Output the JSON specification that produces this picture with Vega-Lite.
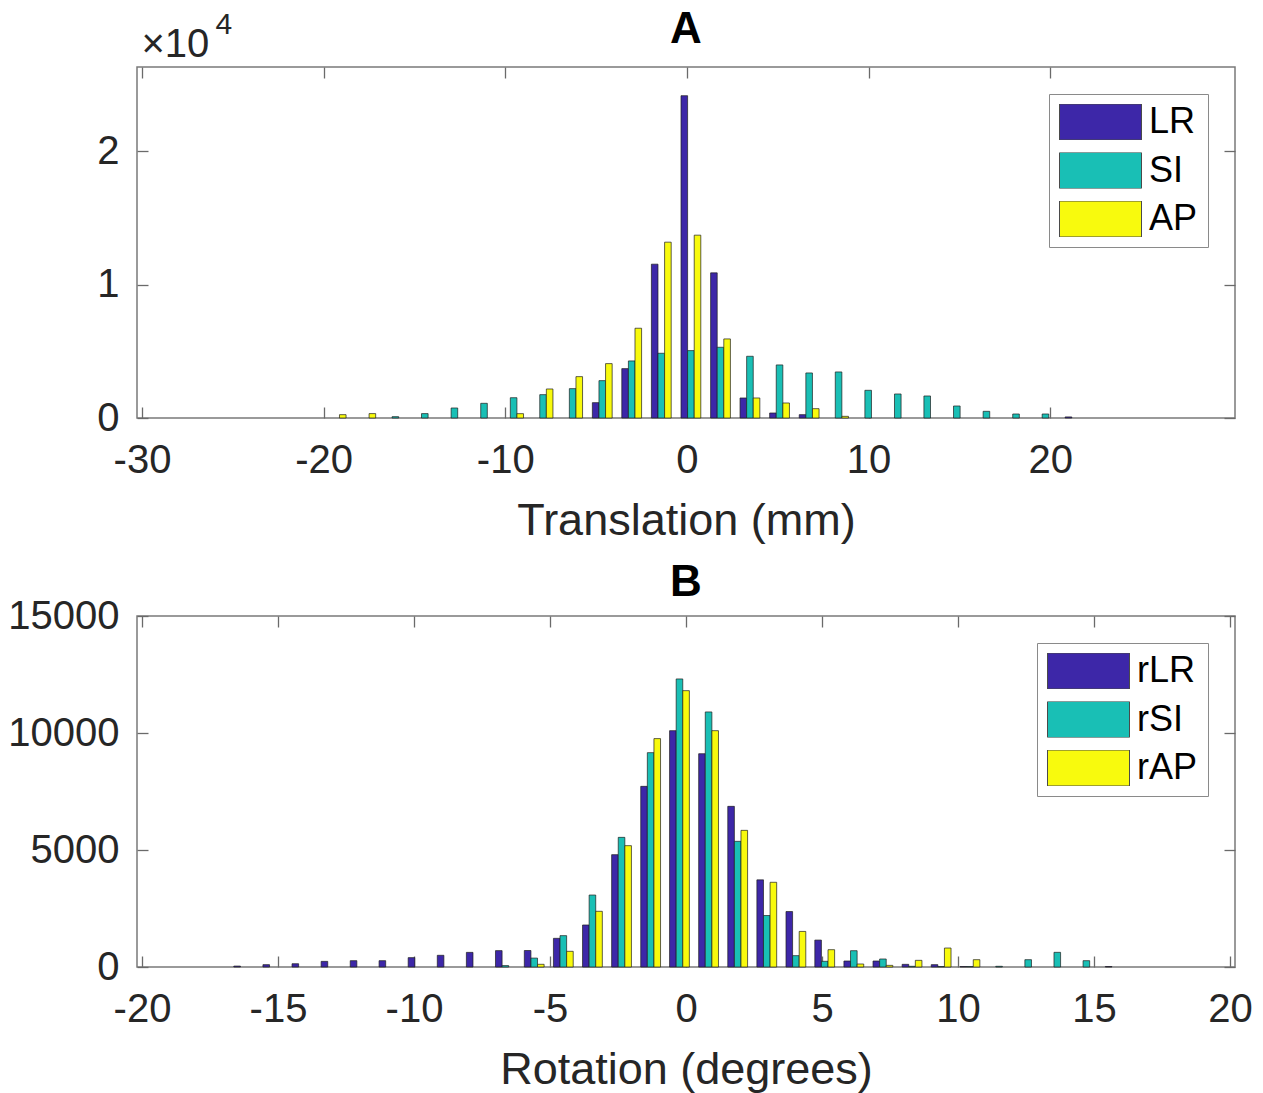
{
  "$schema": "https://vega.github.io/schema/vega-lite/v6.json",
  "autosize": {"type": "pad"},
  "padding": {"left": 7, "top": 7, "right": 0, "bottom": 0},
  "background": "white",
  "bounds": "flush",
  "spacing": 198,
  "config": {
    "font": "Liberation Sans",
    "view": {"stroke": "#7a7a7a", "strokeWidth": 1.5},
    "axis": {
      "grid": false,
      "domain": false,
      "tickColor": "#6a6a6a",
      "tickWidth": 1.3,
      "tickSize": -11,
      "labelFont": "Liberation Sans",
      "labelFontSize": 40,
      "labelColor": "#262626",
      "titleFont": "Liberation Sans",
      "titleFontSize": 45,
      "titleFontWeight": "normal",
      "titleColor": "#262626"
    },
    "title": {"font": "Liberation Sans", "fontSize": 44, "fontWeight": "bold", "color": "#000000", "anchor": "middle"},
    "legend": {
      "title": null,
      "orient": "top-right",
      "offset": 27,
      "symbolType": "M-1,-0.439H1V0.439H-1Z",
      "symbolSize": 6724,
      "clipHeight": 36,
      "rowPadding": 12.5,
      "labelFont": "Liberation Sans",
      "labelFontSize": 36,
      "labelColor": "#000000",
      "labelOffset": 7,
      "padding": 10,
      "strokeColor": "#8a8a8a",
      "fillColor": "white",
      "symbolStrokeColor": "#4a4a4a",
      "symbolStrokeWidth": 1,
      "symbolOpacity": 1
    }
  },
  "datasets": {
    "translation": [
      {"bin": -19.31, "series": "AP", "count": 250},
      {"bin": -17.68, "series": "AP", "count": 330},
      {"bin": -16.05, "series": "SI", "count": 100},
      {"bin": -14.43, "series": "SI", "count": 330},
      {"bin": -12.80, "series": "SI", "count": 750},
      {"bin": -11.17, "series": "SI", "count": 1100},
      {"bin": -9.54, "series": "SI", "count": 1520},
      {"bin": -9.54, "series": "AP", "count": 325},
      {"bin": -7.92, "series": "SI", "count": 1750},
      {"bin": -7.92, "series": "AP", "count": 2175},
      {"bin": -6.29, "series": "SI", "count": 2200},
      {"bin": -6.29, "series": "AP", "count": 3100},
      {"bin": -4.66, "series": "LR", "count": 1150},
      {"bin": -4.66, "series": "SI", "count": 2800},
      {"bin": -4.66, "series": "AP", "count": 4075},
      {"bin": -3.04, "series": "LR", "count": 3700},
      {"bin": -3.04, "series": "SI", "count": 4275},
      {"bin": -3.04, "series": "AP", "count": 6725},
      {"bin": -1.41, "series": "LR", "count": 11525},
      {"bin": -1.41, "series": "SI", "count": 4850},
      {"bin": -1.41, "series": "AP", "count": 13175},
      {"bin": 0.22, "series": "LR", "count": 24150},
      {"bin": 0.22, "series": "SI", "count": 5050},
      {"bin": 0.22, "series": "AP", "count": 13700},
      {"bin": 1.85, "series": "LR", "count": 10875},
      {"bin": 1.85, "series": "SI", "count": 5300},
      {"bin": 1.85, "series": "AP", "count": 5925},
      {"bin": 3.47, "series": "LR", "count": 1500},
      {"bin": 3.47, "series": "SI", "count": 4625},
      {"bin": 3.47, "series": "AP", "count": 1500},
      {"bin": 5.10, "series": "LR", "count": 375},
      {"bin": 5.10, "series": "SI", "count": 3975},
      {"bin": 5.10, "series": "AP", "count": 1125},
      {"bin": 6.73, "series": "LR", "count": 250},
      {"bin": 6.73, "series": "SI", "count": 3375},
      {"bin": 6.73, "series": "AP", "count": 700},
      {"bin": 8.35, "series": "SI", "count": 3450},
      {"bin": 8.35, "series": "AP", "count": 125},
      {"bin": 9.98, "series": "SI", "count": 2075},
      {"bin": 11.61, "series": "SI", "count": 1800},
      {"bin": 13.23, "series": "SI", "count": 1650},
      {"bin": 14.86, "series": "SI", "count": 900},
      {"bin": 16.49, "series": "SI", "count": 500},
      {"bin": 18.12, "series": "SI", "count": 300},
      {"bin": 19.74, "series": "SI", "count": 300},
      {"bin": 21.37, "series": "LR", "count": 80}
    ],
    "rotation": [
      {"bin": -16.26, "series": "rLR", "count": 40},
      {"bin": -15.19, "series": "rLR", "count": 100},
      {"bin": -14.12, "series": "rLR", "count": 140},
      {"bin": -13.05, "series": "rLR", "count": 240},
      {"bin": -11.98, "series": "rLR", "count": 270},
      {"bin": -10.92, "series": "rLR", "count": 270},
      {"bin": -9.85, "series": "rLR", "count": 400},
      {"bin": -8.78, "series": "rLR", "count": 500},
      {"bin": -7.71, "series": "rLR", "count": 625},
      {"bin": -6.64, "series": "rLR", "count": 700},
      {"bin": -6.64, "series": "rSI", "count": 60},
      {"bin": -5.58, "series": "rLR", "count": 705},
      {"bin": -5.58, "series": "rSI", "count": 380},
      {"bin": -5.58, "series": "rAP", "count": 115},
      {"bin": -4.51, "series": "rLR", "count": 1225},
      {"bin": -4.51, "series": "rSI", "count": 1340},
      {"bin": -4.51, "series": "rAP", "count": 670},
      {"bin": -3.44, "series": "rLR", "count": 1795},
      {"bin": -3.44, "series": "rSI", "count": 3075},
      {"bin": -3.44, "series": "rAP", "count": 2380},
      {"bin": -2.37, "series": "rLR", "count": 4800},
      {"bin": -2.37, "series": "rSI", "count": 5540},
      {"bin": -2.37, "series": "rAP", "count": 5185},
      {"bin": -1.30, "series": "rLR", "count": 7720},
      {"bin": -1.30, "series": "rSI", "count": 9160},
      {"bin": -1.30, "series": "rAP", "count": 9760},
      {"bin": -0.24, "series": "rLR", "count": 10100},
      {"bin": -0.24, "series": "rSI", "count": 12310},
      {"bin": -0.24, "series": "rAP", "count": 11810},
      {"bin": 0.83, "series": "rLR", "count": 9115},
      {"bin": 0.83, "series": "rSI", "count": 10900},
      {"bin": 0.83, "series": "rAP", "count": 10100},
      {"bin": 1.90, "series": "rLR", "count": 6865},
      {"bin": 1.90, "series": "rSI", "count": 5370},
      {"bin": 1.90, "series": "rAP", "count": 5840},
      {"bin": 2.97, "series": "rLR", "count": 3725},
      {"bin": 2.97, "series": "rSI", "count": 2200},
      {"bin": 2.97, "series": "rAP", "count": 3620},
      {"bin": 4.04, "series": "rLR", "count": 2370},
      {"bin": 4.04, "series": "rSI", "count": 485},
      {"bin": 4.04, "series": "rAP", "count": 1520},
      {"bin": 5.10, "series": "rLR", "count": 1150},
      {"bin": 5.10, "series": "rSI", "count": 243},
      {"bin": 5.10, "series": "rAP", "count": 740},
      {"bin": 6.17, "series": "rLR", "count": 256},
      {"bin": 6.17, "series": "rSI", "count": 697},
      {"bin": 6.17, "series": "rAP", "count": 128},
      {"bin": 7.24, "series": "rLR", "count": 256},
      {"bin": 7.24, "series": "rSI", "count": 342},
      {"bin": 7.24, "series": "rAP", "count": 70},
      {"bin": 8.31, "series": "rLR", "count": 114},
      {"bin": 8.31, "series": "rSI", "count": 30},
      {"bin": 8.31, "series": "rAP", "count": 285},
      {"bin": 9.38, "series": "rLR", "count": 100},
      {"bin": 9.38, "series": "rSI", "count": 20},
      {"bin": 9.38, "series": "rAP", "count": 810},
      {"bin": 10.44, "series": "rLR", "count": 20},
      {"bin": 10.44, "series": "rSI", "count": 20},
      {"bin": 10.44, "series": "rAP", "count": 313},
      {"bin": 11.51, "series": "rSI", "count": 30},
      {"bin": 12.58, "series": "rSI", "count": 313},
      {"bin": 13.65, "series": "rSI", "count": 627},
      {"bin": 14.72, "series": "rSI", "count": 270},
      {"bin": 15.78, "series": "rLR", "count": 20}
    ]
  },
  "resolve": {
    "scale": {"x": "independent", "y": "independent", "color": "independent"},
    "legend": {"color": "independent"}
  },
  "vconcat": [
    {
      "width": 1098,
      "height": 351,
      "title": {"text": "A", "frame": "group", "offset": -43},
      "data": {"name": "translation"},
      "encoding": {
        "color": {
          "field": "series",
          "type": "nominal",
          "scale": {"domain": ["LR", "SI", "AP"], "range": ["#3D27A8", "#19BFB5", "#F8FA0D"]}
        }
      },
      "layer": [
        {
          "transform": [{"filter": "datum.series === 'LR'"}],
          "mark": {"type": "bar", "width": 6.6, "xOffset": -6.6, "stroke": "#1e1e1e", "strokeWidth": 0.7},
          "encoding": {
            "x": {
              "field": "bin", "type": "quantitative",
              "scale": {"domain": [-30, 29.9], "nice": false, "zero": false},
              "axis": {"orient": "bottom", "values": [-30, -20, -10, 0, 10, 20], "labelExpr": "'' + datum.value", "labelPadding": 33, "title": "Translation (mm)", "titlePadding": 18}
            },
            "y": {
              "field": "count", "type": "quantitative",
              "scale": {"domain": [0, 26300], "nice": false},
              "axis": {"orient": "left", "values": [0, 10000, 20000], "labelExpr": "'' + (datum.value / 10000)", "labelPadding": 29,
                       "title": "×10", "titleAngle": 0, "titleAlign": "left", "titleBaseline": "alphabetic", "titleX": 4, "titleY": -11, "titleFontSize": 40}
            }
          }
        },
        {
          "transform": [{"filter": "datum.series === 'SI'"}],
          "mark": {"type": "bar", "width": 6.6, "xOffset": 0, "stroke": "#1e1e1e", "strokeWidth": 0.7},
          "encoding": {
            "x": {
              "field": "bin", "type": "quantitative",
              "scale": {"domain": [-30, 29.9], "nice": false, "zero": false},
              "axis": {"orient": "top", "values": [-30, -20, -10, 0, 10, 20], "labels": false,
                       "title": "4", "titleAngle": 0, "titleAlign": "left", "titleBaseline": "alphabetic", "titleX": 78, "titleY": -34, "titleFontSize": 30}
            },
            "y": {
              "field": "count", "type": "quantitative",
              "scale": {"domain": [0, 26300], "nice": false},
              "axis": {"orient": "right", "values": [0, 10000, 20000], "labels": false, "title": null}
            }
          }
        },
        {
          "transform": [{"filter": "datum.series === 'AP'"}],
          "mark": {"type": "bar", "width": 6.6, "xOffset": 6.6, "stroke": "#1e1e1e", "strokeWidth": 0.7},
          "encoding": {
            "x": {"field": "bin", "type": "quantitative", "scale": {"domain": [-30, 29.9], "nice": false, "zero": false}, "axis": null},
            "y": {"field": "count", "type": "quantitative", "scale": {"domain": [0, 26300], "nice": false}, "axis": null}
          }
        }
      ]
    },
    {
      "width": 1098,
      "height": 351,
      "title": {"text": "B", "frame": "group", "offset": -9},
      "data": {"name": "rotation"},
      "encoding": {
        "color": {
          "field": "series",
          "type": "nominal",
          "scale": {"domain": ["rLR", "rSI", "rAP"], "range": ["#3D27A8", "#19BFB5", "#F8FA0D"]}
        }
      },
      "layer": [
        {
          "transform": [{"filter": "datum.series === 'rLR'"}],
          "mark": {"type": "bar", "width": 6.6, "xOffset": -6.6, "stroke": "#1e1e1e", "strokeWidth": 0.7},
          "encoding": {
            "x": {
              "field": "bin", "type": "quantitative",
              "scale": {"domain": [-20, 20], "nice": false, "zero": false},
              "axis": {"orient": "bottom", "values": [-20, -15, -10, -5, 0, 5, 10, 15, 20], "labelExpr": "'' + datum.value", "labelPadding": 33, "title": "Rotation (degrees)", "titlePadding": 18}
            },
            "y": {
              "field": "count", "type": "quantitative",
              "scale": {"domain": [0, 15000], "nice": false},
              "axis": {"orient": "left", "values": [0, 5000, 10000, 15000], "labelExpr": "'' + datum.value", "labelPadding": 29, "title": null}
            }
          }
        },
        {
          "transform": [{"filter": "datum.series === 'rSI'"}],
          "mark": {"type": "bar", "width": 6.6, "xOffset": 0, "stroke": "#1e1e1e", "strokeWidth": 0.7},
          "encoding": {
            "x": {
              "field": "bin", "type": "quantitative",
              "scale": {"domain": [-20, 20], "nice": false, "zero": false},
              "axis": {"orient": "top", "values": [-20, -15, -10, -5, 0, 5, 10, 15, 20], "labels": false, "title": null}
            },
            "y": {
              "field": "count", "type": "quantitative",
              "scale": {"domain": [0, 15000], "nice": false},
              "axis": {"orient": "right", "values": [0, 5000, 10000, 15000], "labels": false, "title": null}
            }
          }
        },
        {
          "transform": [{"filter": "datum.series === 'rAP'"}],
          "mark": {"type": "bar", "width": 6.6, "xOffset": 6.6, "stroke": "#1e1e1e", "strokeWidth": 0.7},
          "encoding": {
            "x": {"field": "bin", "type": "quantitative", "scale": {"domain": [-20, 20], "nice": false, "zero": false}, "axis": null},
            "y": {"field": "count", "type": "quantitative", "scale": {"domain": [0, 15000], "nice": false}, "axis": null}
          }
        }
      ]
    }
  ]
}
